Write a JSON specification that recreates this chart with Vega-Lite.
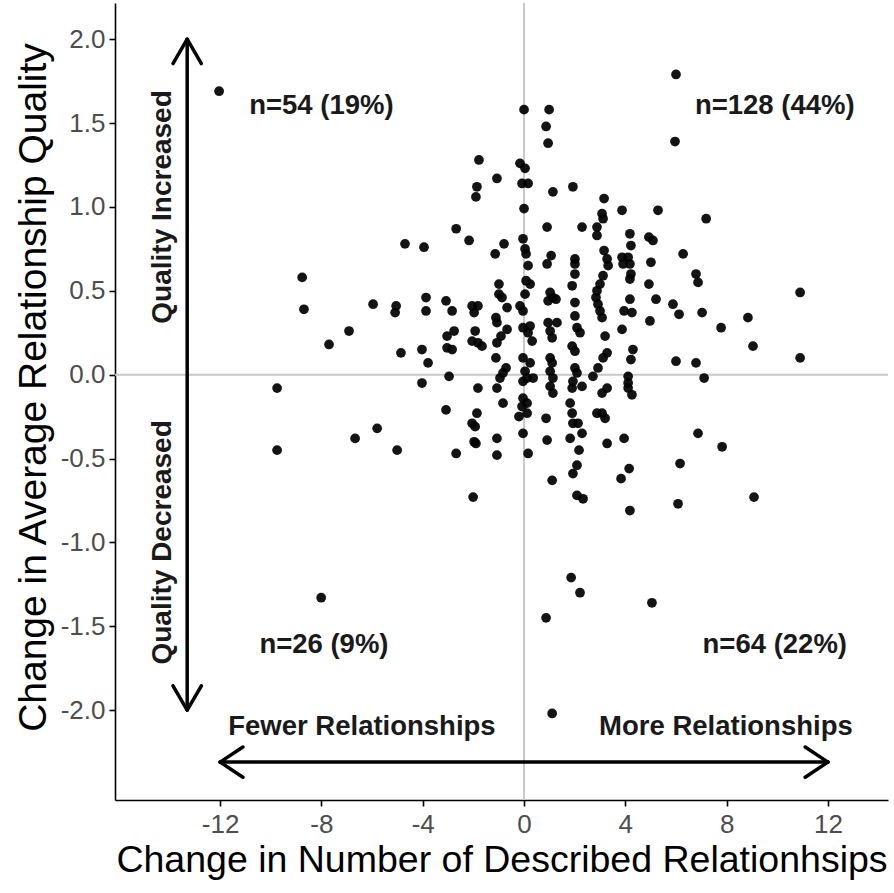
{
  "$schema": "https://vega.github.io/schema/vega-lite/v6.json",
  "width": 773,
  "height": 797,
  "autosize": "none",
  "padding": {"left": 115, "top": 3, "right": 6, "bottom": 93},
  "background": "white",
  "config": {
    "view": {"stroke": null},
    "font": "Liberation Sans",
    "axis": {
      "grid": false,
      "domainColor": "#000000",
      "domainWidth": 1.6,
      "tickColor": "#000000",
      "tickWidth": 1.6,
      "tickSize": 6,
      "labelColor": "#4d4d4d",
      "labelFont": "Liberation Sans",
      "labelFontSize": 26,
      "titleFont": "Liberation Sans",
      "titleFontWeight": "normal",
      "titleColor": "#000000"
    }
  },
  "datasets": {
    "pts": [
      {"x": -12.04, "y": 1.69}, {"x": 0, "y": 1.58}, {"x": 0.99, "y": 1.58}, {"x": 0.87, "y": 1.48}, {"x": 0.95, "y": 1.38},
      {"x": 6.0, "y": 1.79}, {"x": 5.96, "y": 1.39}, {"x": -1.78, "y": 1.28}, {"x": -1.07, "y": 1.17}, {"x": -1.86, "y": 1.12},
      {"x": -1.9, "y": 1.06}, {"x": -2.68, "y": 0.87}, {"x": -2.17, "y": 0.8}, {"x": -3.95, "y": 0.76}, {"x": -4.7, "y": 0.78},
      {"x": -0.79, "y": 0.78}, {"x": -1.14, "y": 0.72}, {"x": -0.16, "y": 1.26}, {"x": 0.04, "y": 1.23}, {"x": -0.08, "y": 1.14},
      {"x": 0.16, "y": 1.14}, {"x": 1.14, "y": 1.09}, {"x": 1.93, "y": 1.12}, {"x": 3.16, "y": 1.05}, {"x": 0, "y": 0.99},
      {"x": 3.08, "y": 0.96}, {"x": 3.12, "y": 0.93}, {"x": 3.87, "y": 0.98}, {"x": 0.91, "y": 0.88}, {"x": 2.29, "y": 0.88},
      {"x": 2.88, "y": 0.88}, {"x": 2.88, "y": 0.83}, {"x": -0.04, "y": 0.81}, {"x": 0.04, "y": 0.75}, {"x": 0.08, "y": 0.72},
      {"x": 0.16, "y": 0.65}, {"x": 1.07, "y": 0.71}, {"x": 0.91, "y": 0.66}, {"x": 2.01, "y": 0.69}, {"x": 2.01, "y": 0.66},
      {"x": 3.16, "y": 0.74}, {"x": 3.28, "y": 0.69}, {"x": 3.32, "y": 0.65}, {"x": 5.29, "y": 0.98}, {"x": 7.19, "y": 0.93},
      {"x": 4.18, "y": 0.84}, {"x": 4.93, "y": 0.82}, {"x": 5.09, "y": 0.8}, {"x": 4.22, "y": 0.77}, {"x": 6.28, "y": 0.72},
      {"x": 3.87, "y": 0.7}, {"x": 4.11, "y": 0.7}, {"x": 3.91, "y": 0.66}, {"x": 4.18, "y": 0.66}, {"x": 5.01, "y": 0.67},
      {"x": 6.79, "y": 0.6}, {"x": -8.76, "y": 0.58}, {"x": -8.69, "y": 0.39}, {"x": -5.96, "y": 0.42}, {"x": -5.05, "y": 0.41},
      {"x": -5.09, "y": 0.37}, {"x": -6.91, "y": 0.26}, {"x": -7.7, "y": 0.18}, {"x": -4.86, "y": 0.13}, {"x": -9.75, "y": -0.08},
      {"x": -3.87, "y": 0.46}, {"x": -3.87, "y": 0.38}, {"x": -3.08, "y": 0.44}, {"x": -2.84, "y": 0.38}, {"x": -2.05, "y": 0.41},
      {"x": -1.82, "y": 0.41}, {"x": -1.97, "y": 0.37}, {"x": -0.99, "y": 0.54}, {"x": -0.99, "y": 0.48}, {"x": -0.87, "y": 0.46},
      {"x": -0.67, "y": 0.4}, {"x": -1.11, "y": 0.34}, {"x": -1.07, "y": 0.31}, {"x": -0.67, "y": 0.27}, {"x": -0.91, "y": 0.23},
      {"x": -1.07, "y": 0.19}, {"x": -2.76, "y": 0.26}, {"x": -3.04, "y": 0.23}, {"x": -3.04, "y": 0.16}, {"x": -2.84, "y": 0.15},
      {"x": -1.93, "y": 0.26}, {"x": -2.05, "y": 0.2}, {"x": -1.82, "y": 0.19}, {"x": -1.66, "y": 0.17}, {"x": -4.03, "y": 0.15},
      {"x": -3.79, "y": 0.07}, {"x": -4.03, "y": -0.05}, {"x": -2.96, "y": -0.01}, {"x": -1.11, "y": 0.1}, {"x": -0.71, "y": 0.04},
      {"x": -0.83, "y": 0.01}, {"x": -0.95, "y": -0.02}, {"x": -1.07, "y": -0.08}, {"x": -1.82, "y": -0.08}, {"x": 0.08, "y": 0.56},
      {"x": 0.24, "y": 0.54}, {"x": 0.04, "y": 0.48}, {"x": -0.16, "y": 0.41}, {"x": -0.04, "y": 0.38}, {"x": 3.12, "y": 0.59},
      {"x": 3.0, "y": 0.54}, {"x": 1.03, "y": 0.49}, {"x": 1.14, "y": 0.46}, {"x": 1.26, "y": 0.45}, {"x": 0.95, "y": 0.44},
      {"x": 1.9, "y": 0.53}, {"x": 2.01, "y": 0.43}, {"x": 2.01, "y": 0.35}, {"x": 2.01, "y": 0.6}, {"x": 2.88, "y": 0.5},
      {"x": 2.84, "y": 0.46}, {"x": 2.92, "y": 0.42}, {"x": 3.0, "y": 0.38}, {"x": 3.08, "y": 0.34}, {"x": 3.95, "y": 0.38},
      {"x": 3.87, "y": 0.27}, {"x": -0.04, "y": 0.28}, {"x": 0.24, "y": 0.29}, {"x": 0.16, "y": 0.25}, {"x": 0.32, "y": 0.2},
      {"x": 0.95, "y": 0.31}, {"x": 1.3, "y": 0.31}, {"x": 1.03, "y": 0.26}, {"x": 1.11, "y": 0.22}, {"x": 2.09, "y": 0.28},
      {"x": 2.21, "y": 0.25}, {"x": 3.2, "y": 0.23}, {"x": 1.9, "y": 0.17}, {"x": 2.01, "y": 0.14}, {"x": 3.28, "y": 0.13},
      {"x": 3.12, "y": 0.1}, {"x": 2.92, "y": 0.04}, {"x": 2.72, "y": -0.01}, {"x": -0.04, "y": 0.1}, {"x": 0.24, "y": 0.07},
      {"x": 0.04, "y": 0.02}, {"x": 0.12, "y": -0.02}, {"x": 0.36, "y": -0.02}, {"x": -0.04, "y": -0.04}, {"x": 1.03, "y": 0.1},
      {"x": 1.11, "y": 0.07}, {"x": 1.03, "y": 0.02}, {"x": 1.14, "y": -0.02}, {"x": 1.03, "y": -0.07}, {"x": 2.01, "y": 0.04},
      {"x": 2.09, "y": 0.01}, {"x": 1.93, "y": -0.04}, {"x": 2.29, "y": -0.07}, {"x": 1.9, "y": -0.08}, {"x": 3.28, "y": -0.08},
      {"x": 3.08, "y": -0.11}, {"x": -0.04, "y": -0.14}, {"x": 1.14, "y": -0.11}, {"x": 4.22, "y": 0.6}, {"x": 4.18, "y": 0.57},
      {"x": 6.87, "y": 0.55}, {"x": 4.93, "y": 0.54}, {"x": 4.18, "y": 0.45}, {"x": 5.21, "y": 0.45}, {"x": 5.88, "y": 0.42},
      {"x": 6.12, "y": 0.36}, {"x": 7.03, "y": 0.37}, {"x": 4.26, "y": 0.37}, {"x": 4.97, "y": 0.32}, {"x": 7.78, "y": 0.28},
      {"x": 4.3, "y": 0.15}, {"x": 4.22, "y": 0.09}, {"x": 6.0, "y": 0.08}, {"x": 6.79, "y": 0.07}, {"x": 4.11, "y": -0.01},
      {"x": 4.11, "y": -0.05}, {"x": 4.11, "y": -0.08}, {"x": 4.26, "y": -0.12}, {"x": 7.11, "y": -0.02}, {"x": -5.01, "y": -0.45},
      {"x": -3.08, "y": -0.21}, {"x": -1.86, "y": -0.23}, {"x": -2.05, "y": -0.29}, {"x": -1.93, "y": -0.31}, {"x": -1.97, "y": -0.4},
      {"x": -1.9, "y": -0.41}, {"x": -2.68, "y": -0.47}, {"x": -1.07, "y": -0.38}, {"x": -1.07, "y": -0.48}, {"x": -0.83, "y": -0.17},
      {"x": -0.08, "y": -0.19}, {"x": -0.2, "y": -0.25}, {"x": 0.12, "y": -0.17}, {"x": 0.12, "y": -0.23}, {"x": -0.04, "y": -0.35},
      {"x": 0.16, "y": -0.47}, {"x": -2.01, "y": -0.73}, {"x": 0.87, "y": -0.26}, {"x": 0.91, "y": -0.39}, {"x": 1.82, "y": -0.17},
      {"x": 1.9, "y": -0.23}, {"x": 1.93, "y": -0.29}, {"x": 2.13, "y": -0.29}, {"x": 2.29, "y": -0.35}, {"x": 1.82, "y": -0.38},
      {"x": 2.17, "y": -0.45}, {"x": 2.88, "y": -0.23}, {"x": 3.08, "y": -0.23}, {"x": 3.2, "y": -0.26}, {"x": 3.28, "y": -0.41},
      {"x": 3.95, "y": -0.38}, {"x": 2.09, "y": -0.54}, {"x": 1.93, "y": -0.59}, {"x": 1.11, "y": -0.63}, {"x": 4.15, "y": -0.56},
      {"x": 3.83, "y": -0.62}, {"x": 2.09, "y": -0.72}, {"x": 2.33, "y": -0.74}, {"x": 4.18, "y": -0.81}, {"x": -9.75, "y": -0.45},
      {"x": -8.01, "y": -1.33}, {"x": -6.67, "y": -0.38}, {"x": -5.8, "y": -0.32}, {"x": 1.86, "y": -1.21}, {"x": 2.21, "y": -1.3},
      {"x": 0.87, "y": -1.45}, {"x": 1.11, "y": -2.02}, {"x": 5.05, "y": -1.36}, {"x": 8.84, "y": 0.34}, {"x": 9.04, "y": 0.17},
      {"x": 10.9, "y": 0.49}, {"x": 10.9, "y": 0.1}, {"x": 6.87, "y": -0.35}, {"x": 7.82, "y": -0.43}, {"x": 6.16, "y": -0.53},
      {"x": 6.08, "y": -0.77}, {"x": 9.08, "y": -0.73}
    ],
    "segs": [
      {"x": -13.3, "y": -2.0, "x2": -13.3, "y2": 2.0},
      {"x": -13.3, "y": 2.0, "x2": -13.86, "y2": 1.855},
      {"x": -13.3, "y": 2.0, "x2": -12.74, "y2": 1.855},
      {"x": -13.3, "y": -2.0, "x2": -13.86, "y2": -1.855},
      {"x": -13.3, "y": -2.0, "x2": -12.74, "y2": -1.855},
      {"x": -12.0, "y": -2.31, "x2": 12.0, "y2": -2.31},
      {"x": -12.0, "y": -2.31, "x2": -11.1, "y2": -2.22},
      {"x": -12.0, "y": -2.31, "x2": -11.1, "y2": -2.40},
      {"x": 12.0, "y": -2.31, "x2": 11.1, "y2": -2.22},
      {"x": 12.0, "y": -2.31, "x2": 11.1, "y2": -2.40}
    ],
    "labels": [
      {"x": -8.0, "y": 1.6, "t": "n=54 (19%)"},
      {"x": 9.9, "y": 1.6, "t": "n=128 (44%)"},
      {"x": -7.9, "y": -1.61, "t": "n=26 (9%)"},
      {"x": 9.9, "y": -1.61, "t": "n=64 (22%)"},
      {"x": -6.4, "y": -2.1, "t": "Fewer Relationships"},
      {"x": 7.97, "y": -2.1, "t": "More Relationships"}
    ],
    "vlabels": [
      {"x": -14.25, "y": 1.0, "t": "Quality Increased"},
      {"x": -14.25, "y": -1.0, "t": "Quality Decreased"}
    ]
  },
  "layer": [
    {
      "data": {"values": [{"v": 0}]},
      "mark": {"type": "rule", "color": "#c8c8c8", "strokeWidth": 2},
      "encoding": {"x": {"field": "v", "type": "quantitative"}}
    },
    {
      "data": {"values": [{"v": 0}]},
      "mark": {"type": "rule", "color": "#c8c8c8", "strokeWidth": 2},
      "encoding": {"y": {"field": "v", "type": "quantitative"}}
    },
    {
      "data": {"name": "pts"},
      "mark": {"type": "circle", "size": 95, "color": "#000000", "opacity": 0.92},
      "encoding": {
        "x": {
          "field": "x", "type": "quantitative",
          "scale": {"domain": [-16.15, 14.37], "nice": false, "zero": false},
          "axis": {
            "values": [-12, -8, -4, 0, 4, 8, 12],
            "labelExpr": "datum.value < 0 ? '-' + format(-datum.value, 'd') : format(datum.value, 'd')",
            "title": "Change in Number of Described Relationhsips",
            "titleFontSize": 37.5, "labelPadding": 5, "titlePadding": 4
          }
        },
        "y": {
          "field": "y", "type": "quantitative",
          "scale": {"domain": [-2.536, 2.216], "nice": false, "zero": false},
          "axis": {
            "values": [-2, -1.5, -1, -0.5, 0, 0.5, 1, 1.5, 2],
            "labelExpr": "datum.value < 0 ? '-' + format(-datum.value, '.1f') : format(datum.value, '.1f')",
            "title": "Change in Average Relationship Quality",
            "titleFontSize": 39, "labelPadding": 4, "titlePadding": 7,
            "titleY": 384
          }
        }
      }
    },
    {
      "data": {"name": "segs"},
      "mark": {"type": "rule", "color": "#000000", "strokeWidth": 3.5, "strokeCap": "round"},
      "encoding": {
        "x": {"field": "x", "type": "quantitative"},
        "y": {"field": "y", "type": "quantitative"},
        "x2": {"field": "x2"},
        "y2": {"field": "y2"}
      }
    },
    {
      "data": {"name": "labels"},
      "mark": {"type": "text", "font": "Liberation Sans", "fontWeight": "bold", "fontSize": 27.5, "color": "#1a1a1a", "align": "center", "baseline": "middle"},
      "encoding": {
        "x": {"field": "x", "type": "quantitative"},
        "y": {"field": "y", "type": "quantitative"},
        "text": {"field": "t"}
      }
    },
    {
      "data": {"name": "vlabels"},
      "mark": {"type": "text", "font": "Liberation Sans", "fontWeight": "bold", "fontSize": 28, "color": "#1a1a1a", "align": "center", "baseline": "middle", "angle": 270},
      "encoding": {
        "x": {"field": "x", "type": "quantitative"},
        "y": {"field": "y", "type": "quantitative"},
        "text": {"field": "t"}
      }
    }
  ]
}
